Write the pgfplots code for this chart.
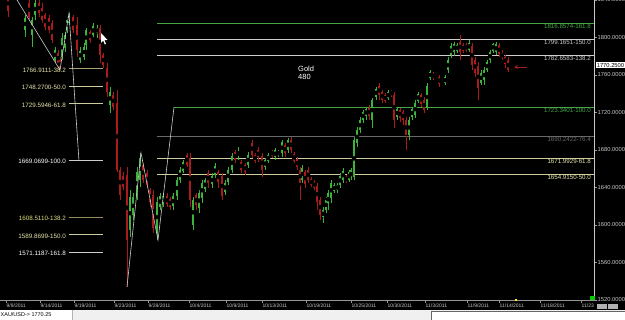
\documentclass[border=0pt]{standalone}
\usepackage{pgfplots}
\pgfplotsset{compat=1.18}
\usepackage{pgfplotstable}
\usepackage{fontspec}
\setmainfont{Liberation Sans}
\definecolor{cgreen}{RGB}{60,180,60}
\definecolor{cred}{RGB}{170,28,28}
\definecolor{fibgreen}{RGB}{70,165,70}
\definecolor{fibwhite}{RGB}{205,205,205}
\definecolor{fibgray}{RGB}{105,105,105}
\definecolor{fibkhaki}{RGB}{205,205,160}
\definecolor{fibolive}{RGB}{150,140,90}
\definecolor{labkhaki}{RGB}{230,230,170}
\definecolor{labyellow}{RGB}{220,220,130}
\definecolor{axgray}{RGB}{150,150,150}
\definecolor{ticktext}{RGB}{200,200,200}

\pgfplotstableread{
x o h l c
25 1808 1824 1800.5 1821
32 1803 1822 1790 1819
35 1824 1842 1819 1837
55 1776 1790 1773 1787
62 1779 1805 1776 1800
65 1789 1806 1784 1803
67 1808 1822 1805 1819
69 1816 1826 1813 1823
80 1776 1790 1773 1786
84 1779 1794 1776 1790
86 1792 1810 1787 1808
93 1803 1815 1800 1812
97 1805 1813 1800 1810
110 1728 1747 1720 1742
130 1595 1637 1587 1630
133 1611 1634 1605 1630
137 1632 1662 1627 1657
140 1648 1677 1640 1672
157 1592 1630 1584 1625
160 1619 1634 1616 1631
163 1623 1634 1619 1631
173 1620 1634 1616 1631
177 1631 1651 1627 1648
180 1648 1662 1645 1659
183 1658 1669 1655 1667
193 1600 1630 1595 1627
199 1618 1637 1613 1634
202 1629 1648 1623 1645
205 1638 1650 1635 1648
212 1644 1655 1640 1652
215 1653 1666 1650 1663
225 1635 1648 1632 1645
228 1646 1662 1643 1659
232 1659 1677 1655 1674
238 1676 1683 1669 1677
248 1664 1678 1661 1675
265 1662 1671 1659 1669
268 1668 1677 1666 1675
275 1672 1682 1669 1680
278 1675 1680 1673 1679
282 1677 1691 1673 1688
288 1680 1693 1677 1691
302 1648 1664 1645 1661
323 1608 1619 1602 1616
326 1616 1630 1613 1627
328 1621 1637 1616 1634
331 1629 1648 1623 1645
334 1636 1645 1634 1643
337 1637 1645 1634 1643
340 1643 1655 1639 1652
343 1648 1661 1645 1658
349 1648 1659 1646 1656
351 1650 1661 1648 1659
354 1651 1694 1648 1691
357 1687 1704 1683 1701
360 1701 1715 1698 1712
363 1712 1723 1709 1721
366 1716 1726 1712 1724
372 1712 1736 1704 1733
376 1737 1747 1733 1745
388 1735 1744 1733 1742
397 1715 1726 1712 1724
409 1696 1715 1691 1712
412 1715 1726 1712 1724
415 1717 1733 1714 1730
418 1732 1742 1730 1740
427 1725 1751 1723 1748
430 1757 1765 1755 1763
436 1758 1762 1757 1761
442 1752 1757 1751 1756
445 1751 1760 1749 1758
448 1765 1779 1762 1776
451 1781 1794 1778 1791
454 1785 1795 1780 1793
457 1786 1794 1783 1792
469 1787 1797 1785 1794
481 1752 1765 1749 1762
484 1755 1768 1749 1765
487 1765 1776 1763 1774
490 1776 1787 1773 1784
493 1786 1794 1783 1793
496 1784 1795 1781 1793
511 1767 1771 1765 1770.25
}\uptable

\pgfplotstableread{
x o h l c
8 1845 1850 1822 1828
29 1837 1840 1819 1822
39 1837 1841 1822 1826
42 1832 1837 1815 1819
45 1824 1826 1808 1811
49 1821 1824 1805 1808
52 1815 1819 1794 1797
58 1783 1787 1768 1773
60 1776 1779 1766 1767
73 1822 1824 1805 1808
77 1813 1822 1779 1787
90 1806 1808 1794 1797
100 1810 1813 1773 1781
103 1781 1784 1768 1771
107 1768 1773 1737 1742
113 1739 1742 1723 1726
117 1730 1744 1656 1659
120 1659 1662 1627 1632
123 1652 1656 1637 1640
127 1653 1662 1534 1584
143 1664 1666 1645 1648
147 1655 1659 1640 1643
150 1637 1640 1619 1624
153 1632 1637 1591 1597
167 1631 1634 1619 1622
170 1628 1630 1616 1619
187 1675 1677 1662 1664
190 1672 1677 1619 1627
196 1632 1634 1616 1621
208 1655 1659 1640 1645
218 1657 1659 1640 1646
222 1652 1655 1627 1631
235 1678 1680 1666 1669
241 1667 1669 1655 1659
245 1664 1666 1653 1657
252 1688 1691 1671 1675
255 1675 1677 1666 1668
258 1680 1683 1667 1672
262 1674 1677 1651 1659
272 1679 1680 1671 1674
285 1685 1687 1673 1677
291 1691 1694 1677 1680
294 1676 1678 1666 1668
297 1670 1672 1659 1662
300 1659 1662 1627 1645
305 1656 1659 1640 1644
308 1659 1662 1645 1648
311 1649 1651 1640 1643
314 1646 1648 1637 1640
317 1642 1645 1616 1624
320 1627 1630 1605 1611
346 1651 1653 1645 1647
369 1725 1728 1712 1716
379 1748 1751 1733 1739
382 1742 1744 1730 1733
385 1739 1741 1730 1732
391 1743 1744 1737 1739
394 1739 1742 1704 1712
400 1723 1725 1710 1714
403 1721 1723 1707 1712
406 1712 1715 1680 1696
421 1739 1741 1726 1729
424 1733 1736 1719 1723
433 1761 1763 1755 1757
439 1758 1760 1747 1750
460 1795 1803 1776 1785
463 1792 1794 1783 1786
466 1792 1794 1785 1787
472 1791 1794 1765 1771
475 1776 1779 1758 1762
478 1770 1774 1733 1746
499 1792 1794 1779 1782
502 1784 1787 1776 1778
505 1779 1781 1768 1772
508 1776 1779 1763 1765
}\downtable

\begin{document}
\begin{tikzpicture}
\useasboundingbox (0,0) rectangle (625bp,320bp);
\clip (0,0) rectangle (625bp,320bp);
\fill[black] (0,0) rectangle (625bp,320bp);
\begin{axis}[
  at={(0,20bp)}, anchor=south west,
  width=594bp, height=300bp, scale only axis,
  xmin=0, xmax=594, ymin=1520, ymax=1840,
  axis x line*=bottom, axis y line*=right,
  x axis line style={draw=axgray, line width=0.8bp},
  y axis line style={draw=ticktext, line width=0.8bp},
  clip mode=individual,
  xtick={6,40,74,114,148,189,226,262,306,351,387,425,467,499,540,581},
  xticklabels={9/9/2011,9/14/2011,9/19/2011,9/23/2011,9/28/2011,10/4/2011,10/9/2011,10/13/2011,10/19/2011,10/25/2011,10/30/2011,11/3/2011,11/9/2011,11/14/2011,11/18/2011,11/23},
  ytick={1520,1560,1600,1640,1680,1720,1760,1800,1840},
  tick align=outside, major tick length=3bp,
  tick style={draw=axgray, line width=0.5bp},
  /pgf/number format/assume math mode=true,
  xticklabel style={font=\fontsize{5}{5}\selectfont, text=ticktext, anchor=north west, inner sep=0pt, xshift=0.5bp, yshift=-0.5bp},
  yticklabel style={font=\fontsize{5.8}{6}\selectfont, text=ticktext, anchor=west, inner sep=0pt, xshift=0.5bp,
    /pgf/number format/fixed, /pgf/number format/fixed zerofill, /pgf/number format/precision=4, /pgf/number format/1000 sep={}},
]
% fib lines right
\addplot[fibgreen, line width=0.7bp] coordinates {(157,1815.1) (594,1815.1)};
\addplot[fibwhite, line width=0.7bp] coordinates {(157,1798.1) (594,1798.1)};
\addplot[fibwhite, line width=0.7bp] coordinates {(157,1781.3) (594,1781.3)};
\addplot[fibgreen, line width=0.7bp] coordinates {(174,1725.6) (594,1725.6)};
\addplot[fibgray, line width=0.7bp] coordinates {(157,1694.9) (594,1694.9)};
\addplot[fibkhaki, line width=0.7bp] coordinates {(157,1671.1) (594,1671.1)};
\addplot[fibkhaki, line width=0.7bp] coordinates {(157,1654.1) (594,1654.1)};
% fib lines left
\addplot[fibolive!70!fibkhaki, line width=0.7bp] coordinates {(69,1766.9111) (103,1766.9111)};
\addplot[fibkhaki, line width=0.7bp] coordinates {(69,1748.27) (103,1748.27)};
\addplot[fibkhaki, line width=0.7bp] coordinates {(69,1729.5946) (103,1729.5946)};
\addplot[fibwhite, line width=0.7bp] coordinates {(69,1669.0699) (103,1669.0699)};
\addplot[fibolive, line width=0.7bp] coordinates {(69,1608.511) (103,1608.511)};
\addplot[fibkhaki, line width=0.7bp] coordinates {(69,1589.8699) (103,1589.8699)};
\addplot[fibwhite, line width=0.7bp] coordinates {(69,1571.1187) (103,1571.1187)};
% candles: wicks
\addplot[only marks, mark=none, error bars/.cd, y dir=both, y explicit, error mark=none,
  error bar style={draw=cgreen, solid, line width=0.6bp}]
  table[x=x, y expr={(\thisrow{h}+\thisrow{l})/2}, y error expr={(\thisrow{h}-\thisrow{l})/2}] {\uptable};
\addplot[only marks, mark=none, error bars/.cd, y dir=both, y explicit, error mark=none,
  error bar style={draw=cred, solid, line width=0.6bp}]
  table[x=x, y expr={(\thisrow{h}+\thisrow{l})/2}, y error expr={(\thisrow{h}-\thisrow{l})/2}] {\downtable};
% candles: bodies
\addplot[only marks, mark=none, error bars/.cd, y dir=both, y explicit, error mark=none,
  error bar style={draw=cgreen, solid, line width=2.1bp}]
  table[x=x, y expr={(\thisrow{o}+\thisrow{c})/2}, y error expr={max(0.6,(\thisrow{c}-\thisrow{o})/2)}] {\uptable};
\addplot[only marks, mark=none, error bars/.cd, y dir=both, y explicit, error mark=none,
  error bar style={draw=cred, solid, line width=2.1bp}]
  table[x=x, y expr={(\thisrow{o}+\thisrow{c})/2}, y error expr={max(0.6,(\thisrow{o}-\thisrow{c})/2)}] {\downtable};
% zigzag lines
\addplot[fibwhite, line width=0.6bp] coordinates {(17,1840) (60,1765.3) (69,1826) (79,1668.3)};
\addplot[fibwhite, line width=0.6bp] coordinates {(127,1534) (141,1677) (158,1584) (174,1725.6)};
% labels right
\begin{scope}[every node/.style={inner sep=0pt, anchor=north east, font=\fontsize{6.2}{6.5}\selectfont}]
\node[text=fibgreen] at (axis cs:591,1814.2) {1816.8574-161.8};
\node[text=fibwhite] at (axis cs:591,1797.2) {1799.1651-150.0};
\node[text=fibwhite] at (axis cs:591,1780.4) {1782.6583-138.2};
\node[text=fibgreen] at (axis cs:591,1724.7) {1723.3401-100.0};
\node[text=fibgray] at (axis cs:591,1694.0) {1690.2422-76.4};
\node[text=labkhaki] at (axis cs:591,1670.2) {1671.9929-61.8};
\node[text=labkhaki] at (axis cs:591,1653.2) {1654.9150-50.0};
\end{scope}
% labels left
\begin{scope}[every node/.style={inner sep=0pt, anchor=east, font=\fontsize{6.3}{6.5}\selectfont}]
\node[text=labkhaki] at (axis cs:66,1765.4) {1766.9111-38.2};
\node[text=labkhaki] at (axis cs:66,1746.8) {1748.2700-50.0};
\node[text=labkhaki] at (axis cs:66,1728.1) {1729.5946-61.8};
\node[text=white] at (axis cs:66,1667.6) {1669.0699-100.0};
\node[text=labyellow] at (axis cs:66,1607.0) {1608.5110-138.2};
\node[text=labkhaki] at (axis cs:66,1588.4) {1589.8699-150.0};
\node[text=white] at (axis cs:66,1569.6) {1571.1187-161.8};
\end{scope}
% title text
\node[anchor=west, inner sep=0pt, text=white, font=\fontsize{7.5}{8}\selectfont] at (axis cs:298,1766.5) {Gold};
\node[anchor=west, inner sep=0pt, text=white, font=\fontsize{7.5}{8}\selectfont] at (axis cs:298,1757.5) {480};
% arrow
\draw[cred, line width=0.8bp, -stealth] (axis cs:527,1768.5) -- (axis cs:514,1768.5);
% current price box
\node[fill=white, text=black, inner xsep=0.6bp, inner ysep=1pt, anchor=west, font=\fontsize{5.8}{6}\selectfont] at (axis cs:596,1770.25) {1770.2500};
\end{axis}
% cursor
\fill[white] (101bp,287bp) -- (101bp,277bp) -- (103.2bp,279.3bp) -- (104.8bp,275.5bp) -- (106bp,276bp) -- (104.5bp,279.8bp) -- (107.5bp,280bp) -- cycle;
% small markers
\fill[green!80!black] (590bp,19.5bp) rectangle (594.5bp,24bp);
\fill[yellow!80!white] (515bp,18.5bp) rectangle (517bp,20.5bp);
\fill[gray!60] (597bp,10.5bp) rectangle (607bp,16bp);
\fill[gray!60] (608bp,10.5bp) rectangle (618bp,16bp);
% status bar
\fill[gray!12] (0,0) rectangle (625bp,10bp);
\fill[white] (0,0.5bp) rectangle (72bp,9.5bp);
\draw[gray!60, line width=0.5bp] (72bp,0.5bp) -- (72bp,9.5bp);
\node[anchor=west, inner sep=0pt, font=\fontsize{5.5}{6}\selectfont] at (0.5bp,5bp) {XAU/USD-> 1770.25};
\fill[white] (431bp,0) rectangle (625bp,8.5bp);
\draw[gray!80!black, line width=0.6bp] (431bp,0) -- (431bp,8.5bp) -- (625bp,8.5bp);
\end{tikzpicture}
\end{document}
